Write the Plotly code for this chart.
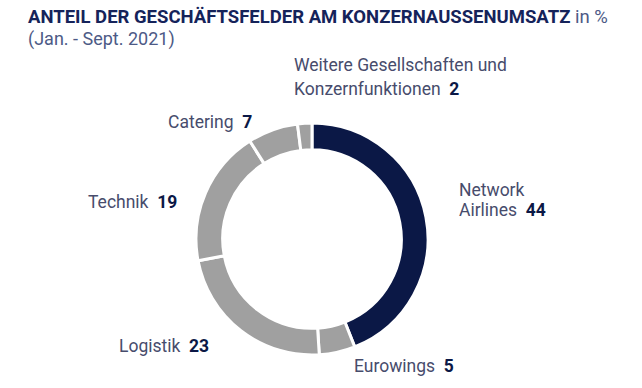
import plotly.graph_objects as go

categories = ["Network Airlines", "Eurowings", "Logistik", "Technik", "Catering",
              "Weitere Gesellschaften und Konzernfunktionen"]
values = [44, 5, 23, 19, 7, 2]
label_lines = [["Network", "Airlines"], ["Eurowings"], ["Logistik"], ["Technik"], ["Catering"],
               ["Weitere Gesellschaften und", "Konzernfunktionen"]]
title_main = "ANTEIL DER GESCHÄFTSFELDER AM KONZERNAUSSENUMSATZ"
title_unit = "in %"
subtitle = "(Jan. - Sept. 2021)"

NAVY = "#0b1846"
TITLE = "#15235a"
GRAY = "#a0a0a0"
LABEL = "#474c6c"
SUB = "#4d5a86"

# body margin is removed (post_script), so figure px == page px
W, H = 642, 388


def px(x):
    return x / W


def py(y):
    return 1 - y / H


colors = [NAVY] + [GRAY] * (len(values) - 1)

cx, cy, r = 312, 239, 116

fig = go.Figure(go.Pie(
    labels=categories, values=values, sort=False, direction="clockwise", rotation=0,
    hole=0.77, marker=dict(colors=colors, line=dict(color="white", width=3)),
    textinfo="none", hoverinfo="label+value", showlegend=False,
    domain=dict(x=[px(cx - r), px(cx + r)], y=[py(cy + r), py(cy - r)]),
))

# per label: x anchor position, anchor side, y centres of each line (page px)
label_pos = [
    (457, "left", [190, 210]),
    (352, "left", [366]),
    (211, "right", [346]),
    (179, "right", [202]),
    (254, "right", [122]),
    (292, "left", [65, 89]),
]

FS = 17.5
annotations = []
for lines, v, (x, xa, ys) in zip(label_lines, values, label_pos):
    for i, (ln, yy) in enumerate(zip(lines, ys)):
        txt = ln
        if i == len(lines) - 1:
            txt = f"{ln}&nbsp; <b><span style='color:{NAVY}'>{v}</span></b>"
        annotations.append(dict(
            x=px(x), y=py(yy), xref="paper", yref="paper", xanchor=xa, yanchor="middle",
            text=txt, showarrow=False, align="left",
            font=dict(family="Roboto", size=FS, color=LABEL),
        ))

annotations.append(dict(
    x=px(26), y=py(17), xref="paper", yref="paper", xanchor="left", yanchor="middle",
    text=f"<b>{title_main}</b> <span style='color:{SUB}'>{title_unit}</span>",
    showarrow=False, align="left", font=dict(family="Roboto", size=18.5, color=TITLE),
))
annotations.append(dict(
    x=px(26), y=py(39), xref="paper", yref="paper", xanchor="left", yanchor="middle",
    text=subtitle, showarrow=False, align="left",
    font=dict(family="Roboto", size=18, color=SUB),
))

fig.update_layout(
    width=W, height=H, margin=dict(l=0, r=0, t=0, b=0),
    paper_bgcolor="white", plot_bgcolor="white", annotations=annotations,
)

fig.write_html(
    "out.html",
    config={"displayModeBar": False},
    post_script="document.body.style.margin='0px';document.body.style.overflow='hidden';",
)
